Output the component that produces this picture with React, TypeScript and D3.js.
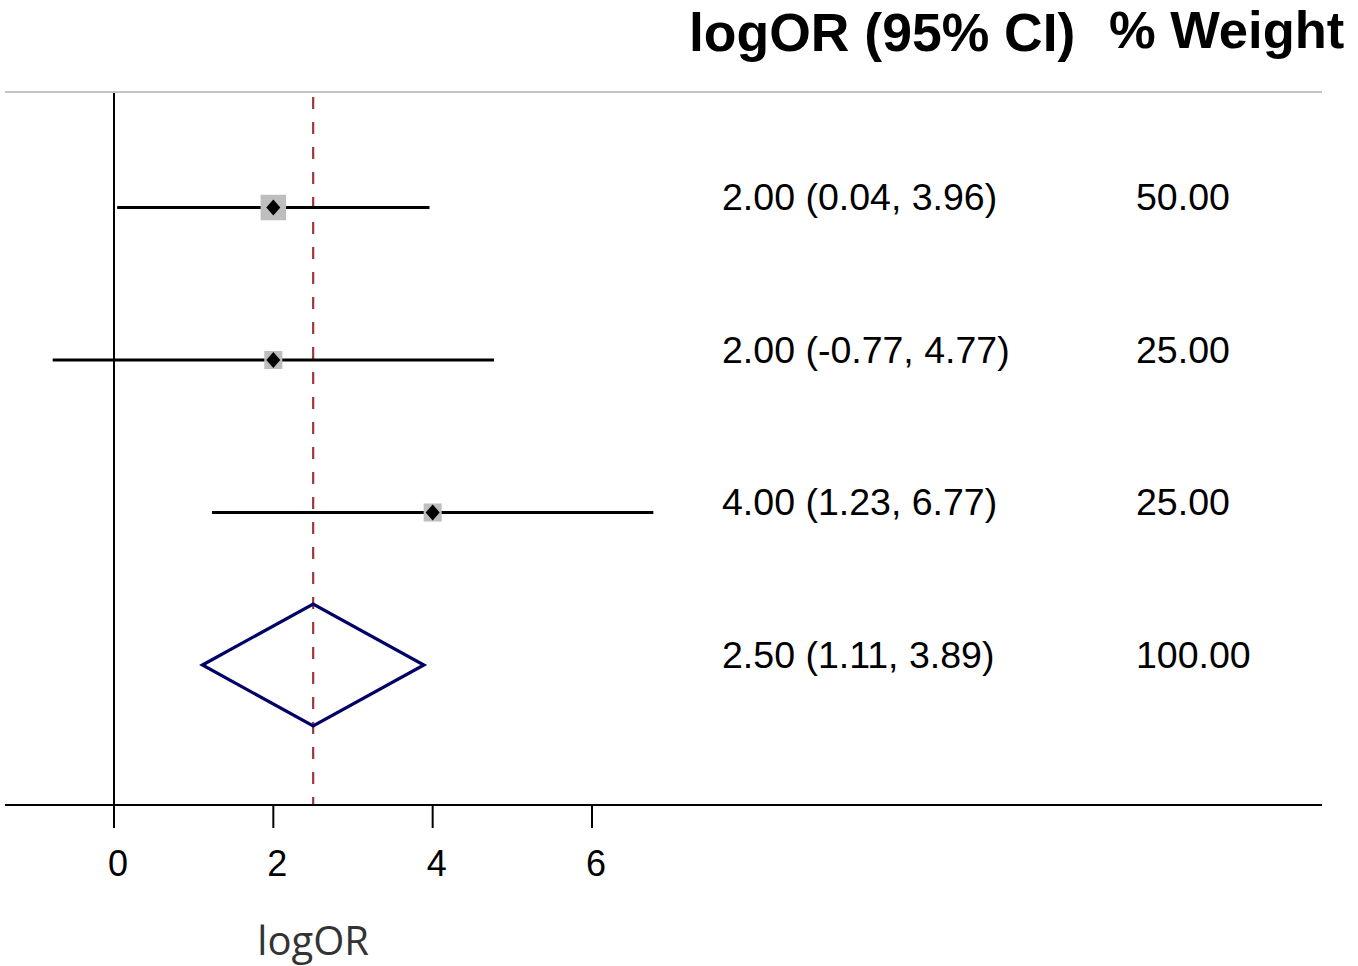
import React from "react";
import * as d3 from "d3";

// Study-level log odds ratios with 95% confidence limits and weights
const estimates = [2.0, 2.0, 4.0];
const lowers = [0.04, -0.77, 1.23];
const uppers = [3.96, 4.77, 6.77];
const weights = [50, 25, 25];

// Pooled (summary) estimate
const pooledEstimate = 2.5;
const pooledLower = 1.11;
const pooledUpper = 3.89;
const pooledWeight = 100;

const xTicks = [0, 2, 4, 6];
const headerEffect = "logOR (95% CI)";
const headerWeight = "% Weight";
const xTitle = "logOR";

const W = 1358;
const H = 966;

// plain hyphen-minus for negative numbers
const locale = d3.formatLocale({
  decimal: ".",
  thousands: ",",
  grouping: [3],
  currency: ["", ""],
  minus: "-",
});

export default function App() {
  const x = d3.scaleLinear().domain([0, 6]).range([114, 592]);
  // rows 0..2 are studies, row 3 is the pooled estimate
  const y = d3.scaleLinear().domain([0, 3]).range([207.5, 665]);
  const fmt = locale.format(".2f");

  const lineTop = 92;
  const axisY = 805;
  const tickLen = 23;
  const maxW = d3.max(weights) as number;
  const side = d3.scaleSqrt().domain([0, maxW]).range([0, 25.5]);

  const rows = estimates.map((e, i) => ({
    est: e,
    lo: lowers[i],
    hi: uppers[i],
    w: weights[i],
  }));

  const diamond = d3.line<[number, number]>()([
    [x(pooledLower), y(3)],
    [x(pooledEstimate), y(3) - 61],
    [x(pooledUpper), y(3)],
    [x(pooledEstimate), y(3) + 61],
  ]) + "Z";

  const textFont = "'Liberation Sans', Arial, sans-serif";
  const rowFont = 37.5;

  return (
    <svg
      width={W}
      height={H}
      viewBox={`0 0 ${W} ${H}`}
      style={{ position: "absolute", left: 0, top: 0, display: "block", background: "#fff" }}
    >
      {/* column headers */}
      <text x={689} y={51} fontFamily={textFont} fontWeight="bold" fontSize={53.5} fill="#000">
        {headerEffect}
      </text>
      <text x={1109} y={48} fontFamily={textFont} fontWeight="bold" fontSize={52.5} fill="#000">
        {headerWeight}
      </text>

      {/* header rule */}
      <line x1={5} x2={1322} y1={lineTop} y2={lineTop} stroke="#c4c4c4" strokeWidth={2.2} />

      {/* line of no effect */}
      <line x1={x(0)} x2={x(0)} y1={lineTop + 1} y2={axisY} stroke="#000" strokeWidth={2} />

      {/* pooled estimate reference line */}
      <line
        x1={x(pooledEstimate)}
        x2={x(pooledEstimate)}
        y1={lineTop + 5}
        y2={axisY}
        stroke="#a3353d"
        strokeWidth={2.2}
        strokeDasharray="12 13"
      />

      {/* study rows */}
      {rows.map((r, i) => {
        const cy = y(i);
        const s = side(r.w);
        return (
          <g key={i}>
            <line x1={x(r.lo)} x2={x(r.hi)} y1={cy} y2={cy} stroke="#000" strokeWidth={3.2} />
            <rect x={x(r.est) - s / 2} y={cy - s / 2} width={s} height={s} fill="#bebebe" />
            <path
              d={`M${x(r.est) - 7},${cy} L${x(r.est)},${cy - 8} L${x(r.est) + 7},${cy} L${x(r.est)},${cy + 8} Z`}
              fill="#000"
            />
            <text x={722} y={cy + 2.5} fontFamily={textFont} fontSize={rowFont} fill="#000">
              {`${fmt(r.est)} (${fmt(r.lo)}, ${fmt(r.hi)})`}
            </text>
            <text x={1136} y={cy + 2.5} fontFamily={textFont} fontSize={rowFont} fill="#000">
              {fmt(r.w)}
            </text>
          </g>
        );
      })}

      {/* pooled diamond */}
      <path d={diamond} fill="none" stroke="#000066" strokeWidth={3.2} strokeLinejoin="miter" />
      <text x={722} y={y(3) + 2.5} fontFamily={textFont} fontSize={rowFont} fill="#000">
        {`${fmt(pooledEstimate)} (${fmt(pooledLower)}, ${fmt(pooledUpper)})`}
      </text>
      <text x={1136} y={y(3) + 2.5} fontFamily={textFont} fontSize={rowFont} fill="#000">
        {fmt(pooledWeight)}
      </text>

      {/* x axis */}
      <line x1={5} x2={1322} y1={axisY} y2={axisY} stroke="#000" strokeWidth={2} />
      {xTicks.map((t) => (
        <g key={t}>
          <line x1={x(t)} x2={x(t)} y1={axisY} y2={axisY + tickLen} stroke="#000" strokeWidth={2} />
          <text
            x={x(t) + 4}
            y={876}
            textAnchor="middle"
            fontFamily={textFont}
            fontSize={36}
            fill="#000"
          >
            {t}
          </text>
        </g>
      ))}
      <text
        x={x(pooledEstimate)}
        y={955}
        textAnchor="middle"
        fontFamily="'Open Sans', 'Noto Sans', sans-serif"
        fontSize={40}
        fill="#333"
      >
        {xTitle}
      </text>
    </svg>
  );
}
